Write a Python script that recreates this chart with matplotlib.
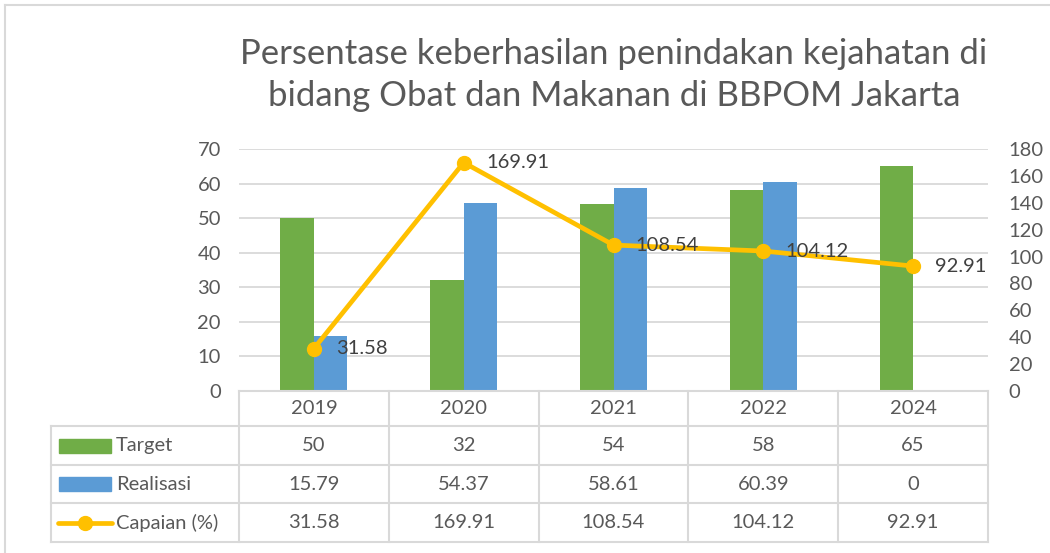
import matplotlib
matplotlib.use("Agg")
import matplotlib.pyplot as plt
import matplotlib.transforms as mtransforms
from matplotlib.lines import Line2D
from matplotlib.patches import Rectangle

plt.rcParams['font.family'] = ['Lato', 'DejaVu Sans']

# data
years = ['2019', '2020', '2021', '2022', '2024']
target = [50, 32, 54, 58, 65]
realisasi = [15.79, 54.37, 58.61, 60.39, 0]
capaian = [31.58, 169.91, 108.54, 104.12, 92.91]
target_txt = ['50', '32', '54', '58', '65']
realisasi_txt = ['15.79', '54.37', '58.61', '60.39', '0']
capaian_txt = ['31.58', '169.91', '108.54', '104.12', '92.91']

GREEN = '#70AD47'
BLUE = '#5B9BD5'
GOLD = '#FFC000'
TXT = '#595959'
GRID = '#D9D9D9'
FS = 14.5

W, H = 1050, 553
fig = plt.figure(figsize=(W / 100, H / 100), dpi=100)


def fx(x):
    return x / W


def fy(y):
    return 1 - y / H


# plot area in pixels
left, right, top, bottom = 239, 988, 149, 391
ax = fig.add_axes([fx(left), fy(bottom), fx(right - left), (bottom - top) / H])
ax2 = ax.twinx()

x = list(range(len(years)))
bw = 0.224
ax.bar([i - bw / 2 for i in x], target, width=bw, color=GREEN, zorder=2)
ax.bar([i + bw / 2 for i in x], realisasi, width=bw, color=BLUE, zorder=2)

ax.set_xlim(-0.5, len(years) - 0.5)
ax.set_ylim(0, 70)
ax.set_yticks(range(0, 71, 10))
ax.set_xticks([])
ax.yaxis.grid(True, color=GRID, linewidth=1.3)
ax.set_axisbelow(True)
ax.tick_params(axis='y', length=0, labelsize=FS, labelcolor=TXT, pad=13)
for s in ax.spines.values():
    s.set_visible(False)

ax2.plot(x, capaian, color=GOLD, linewidth=3.4, marker='o', markersize=10,
         zorder=3)
ax2.set_ylim(0, 180)
ax2.set_yticks(range(0, 181, 20))
ax2.tick_params(axis='y', length=0, labelsize=FS, labelcolor=TXT, pad=15)
for s in ax2.spines.values():
    s.set_visible(False)
for i, v in enumerate(capaian):
    ax2.annotate(capaian_txt[i], (i, v), xytext=(16, 0), textcoords='offset points',
                 ha='left', va='center', fontsize=FS, color='#404040', zorder=4)

# title
fig.text(fx(614), fy(75), 'Persentase keberhasilan penindakan kejahatan di\n'
         'bidang Obat dan Makanan di BBPOM Jakarta',
         ha='center', va='center', fontsize=25, color=TXT, linespacing=1.4)

# data table below the plot
tr = mtransforms.blended_transform_factory(ax.transData, fig.transFigure)
row_y = [391, 426, 465, 503, 542]
tab_left = 51


def hline(x0, x1, y):
    fig.add_artist(Line2D([fx(x0), fx(x1)], [fy(y), fy(y)], color=GRID,
                          linewidth=1.5))


hline(left, right, row_y[0])
for y in row_y[1:]:
    hline(tab_left, right, y)
fig.add_artist(Line2D([fx(tab_left)] * 2, [fy(row_y[1]), fy(row_y[-1])],
                      color=GRID, linewidth=1.5))
for b in range(len(years) + 1):
    fig.add_artist(Line2D([b - 0.5, b - 0.5], [fy(row_y[0]), fy(row_y[-1])],
                          color=GRID, linewidth=1.5, transform=tr))

rows = [years, target_txt, realisasi_txt, capaian_txt]
for r, vals in enumerate(rows):
    yc = fy((row_y[r] + row_y[r + 1]) / 2)
    for i, t in enumerate(vals):
        fig.text(i, yc, t, transform=tr, ha='center', va='center',
                 fontsize=FS, color=TXT)

# series keys in the first column
names = ['Target', 'Realisasi', 'Capaian (%)']
for r, name in enumerate(names):
    yc = (row_y[r + 1] + row_y[r + 2]) / 2
    if r < 2:
        fig.add_artist(Rectangle((fx(59), fy(yc + 7)), fx(52), 14 / H,
                                 color=[GREEN, BLUE][r]))
    else:
        fig.add_artist(Line2D([fx(58), fx(112)], [fy(yc), fy(yc)], color=GOLD,
                              linewidth=3.4, solid_capstyle='round'))
        fig.add_artist(Line2D([fx(85)], [fy(yc)], color=GOLD, marker='o',
                              markersize=10))
    fig.text(fx(116), fy(yc), name, ha='left', va='center', fontsize=FS,
             color=TXT)

# chart border
fig.add_artist(Line2D([fx(5), fx(W)], [fy(5), fy(5)], color=GRID, linewidth=1.5))
fig.add_artist(Line2D([fx(5), fx(5)], [fy(5), 0], color=GRID, linewidth=1.5))

fig.savefig('out.png', dpi=100)
